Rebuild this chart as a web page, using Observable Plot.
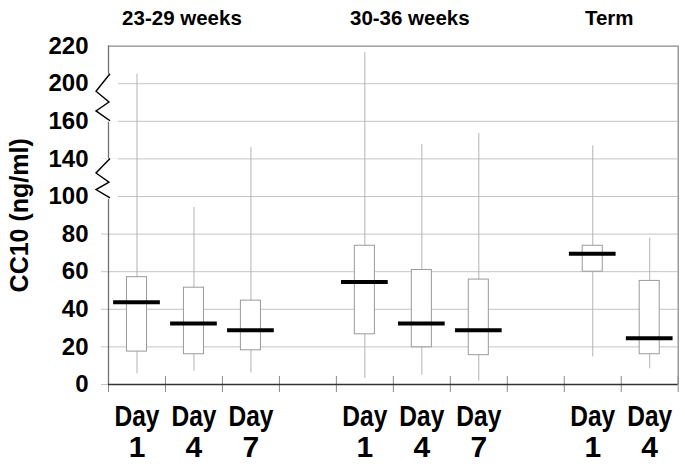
<!DOCTYPE html>
<html><head><meta charset="utf-8">
<script src="https://cdn.jsdelivr.net/npm/d3@7"></script>
<script src="https://cdn.jsdelivr.net/npm/@observablehq/plot@0.6"></script>
<style>body{margin:0;background:#fff} svg{display:block}</style>
</head><body><div id="chart"></div>
<script>
// ---- data ----
const groups = ["23-29 weeks", "30-36 weeks", "Term"];
const boxGroup = ["23-29 weeks","23-29 weeks","23-29 weeks","30-36 weeks","30-36 weeks","30-36 weeks","Term","Term"];
const boxDay = ["1","4","7","1","4","7","1","4"];
const whiskerLow  = [5.6, 7.1, 6.2, 3.2, 4.9, 1.8, 14.7, 8.3];
const quartile1   = [17.5, 16.1, 18.2, 26.7, 19.8, 15.6, 60.0, 16.1];
const median      = [43.7, 32.4, 28.8, 54.5, 32.4, 28.8, 69.6, 24.6];
const quartile3   = [57.1, 51.5, 44.6, 73.8, 60.9, 55.8, 73.8, 55.1];
const whiskerHigh = [205, 94.2, 146, 216.5, 147.6, 153.5, 146.9, 77.9];
const yTickValues = [0, 20, 40, 60, 80, 100, 140, 160, 200, 220];
const axisBreaks = [[160, 205], [99, 140]];
const yTitle = "CC10 (ng/ml)";
const dayPrefix = "Day";

// ---- layout ----
const W = 685, H = 468, mL = 108, mR = 7.3, mT = 45.6, mB = 84;
const nT = yTickValues.length - 1;
// broken axis: each labelled tick gets an equal step
const brokenAxis = d3.scaleLinear().domain(yTickValues).range(d3.range(yTickValues.length));
const slotsPerGroup = 4;

const boxes = boxGroup.map((g, i) => ({
  group: g, day: boxDay[i],
  lo: whiskerLow[i], q1: quartile1[i], med: median[i], q3: quartile3[i], hi: whiskerHigh[i],
  slot: groups.indexOf(g) * slotsPerGroup + boxGroup.slice(0, i).filter(x => x === g).length
}));
const nSlots = d3.max(boxes, d => d.slot) + 1;
const c = d => d.slot + 0.5;
const boxHalf = 0.176, medHalf = 0.41;
const groupCenter = g => {
  const s = boxes.filter(d => d.group === g).map(d => d.slot);
  return (d3.min(s) + d3.max(s) + 1) / 2;
};
const font = "'Liberation Sans', Arial, Helvetica, sans-serif";
const yMax = yTickValues[nT];

const plot = Plot.plot({
  width: W, height: H,
  marginLeft: mL, marginRight: mR, marginTop: mT, marginBottom: mB,
  style: {fontFamily: font, background: "white", color: "black"},
  x: {domain: [0, nSlots], axis: null},
  y: {domain: [0, nT], transform: v => brokenAxis(v), axis: null},
  marks: [
    Plot.ruleY(yTickValues.slice(0, -1), {stroke: "#c4c4c4", strokeWidth: 1, insetLeft: -7}),
    Plot.ruleX(d3.range(nSlots + 1), {y1: 0, y2: 0, insetTop: -8, insetBottom: -8, stroke: "#8a8a8a"}),
    Plot.ruleX(boxes, {x: c, y1: "lo", y2: "hi", stroke: "#b3b3b3", strokeWidth: 1}),
    Plot.rect(boxes, {x1: d => c(d) - boxHalf, x2: d => c(d) + boxHalf, y1: "q1", y2: "q3", fill: "white", stroke: "#9a9a9a", strokeWidth: 1}),
    Plot.ruleY(boxes, {y: "med", x1: d => c(d) - medHalf, x2: d => c(d) + medHalf, stroke: "black", strokeWidth: 4}),
    Plot.ruleY([yMax], {stroke: "#8a8a8a", strokeWidth: 1.3}),
    Plot.ruleX([nSlots], {stroke: "#8a8a8a", strokeWidth: 1.3}),
    Plot.ruleX([0], {stroke: "#707070", strokeWidth: 1.3}),
    Plot.ruleY([0], {stroke: "#333", strokeWidth: 1.6}),
    Plot.text(yTickValues, {y: d => d, text: d => String(d), frameAnchor: "left", textAnchor: "end", dx: -20,
      fontSize: 24, fontWeight: "bold", fill: "black"}),
    Plot.text([yTitle], {frameAnchor: "left", textAnchor: "middle", dx: -89, rotate: -90, fontSize: 25, fontWeight: "bold", fill: "black"}),
    Plot.text(groups, {x: g => groupCenter(g), text: d => d, frameAnchor: "top", lineAnchor: "bottom", dy: -21, dx: -12,
      fontSize: 20.5, fontWeight: "bold", fill: "black"}),
    Plot.text(boxes, {x: c, text: d => `${dayPrefix}\n${d.day}`, frameAnchor: "bottom", lineAnchor: "top", dy: 20,
      lineHeight: 1.03, fontSize: 30, fontWeight: "bold", fill: "black"})
  ]
});

const svg = d3.select(plot);
// condensed "Day" labels
svg.selectAll("tspan").filter(function() { return this.textContent === dayPrefix; })
  .attr("textLength", 45).attr("lengthAdjust", "spacingAndGlyphs");

// axis-break zigzags on the y axis
const ys = plot.scale("y"), xs = plot.scale("x");
const x0 = xs.apply(0);
const yPix = v => ys.apply(brokenAxis(v));
for (const [vLo, vHi] of axisBreaks) {
  const t = yPix(vHi), b = yPix(vLo), h = b - t;
  svg.append("rect").attr("x", x0 - 13).attr("y", t).attr("width", 23).attr("height", h + 1).attr("fill", "white");
  const pts = [[x0 + 2, t], [x0 - 12, t + 0.37 * h], [x0 + 1, t + 0.6 * h], [x0 - 12, t + 0.79 * h], [x0 + 2, b]];
  svg.append("polyline").attr("points", pts.map(p => p.join(",")).join(" "))
    .attr("fill", "none").attr("stroke", "black").attr("stroke-width", 1.4);
}
document.getElementById("chart").appendChild(plot);
</script>
</body></html>
